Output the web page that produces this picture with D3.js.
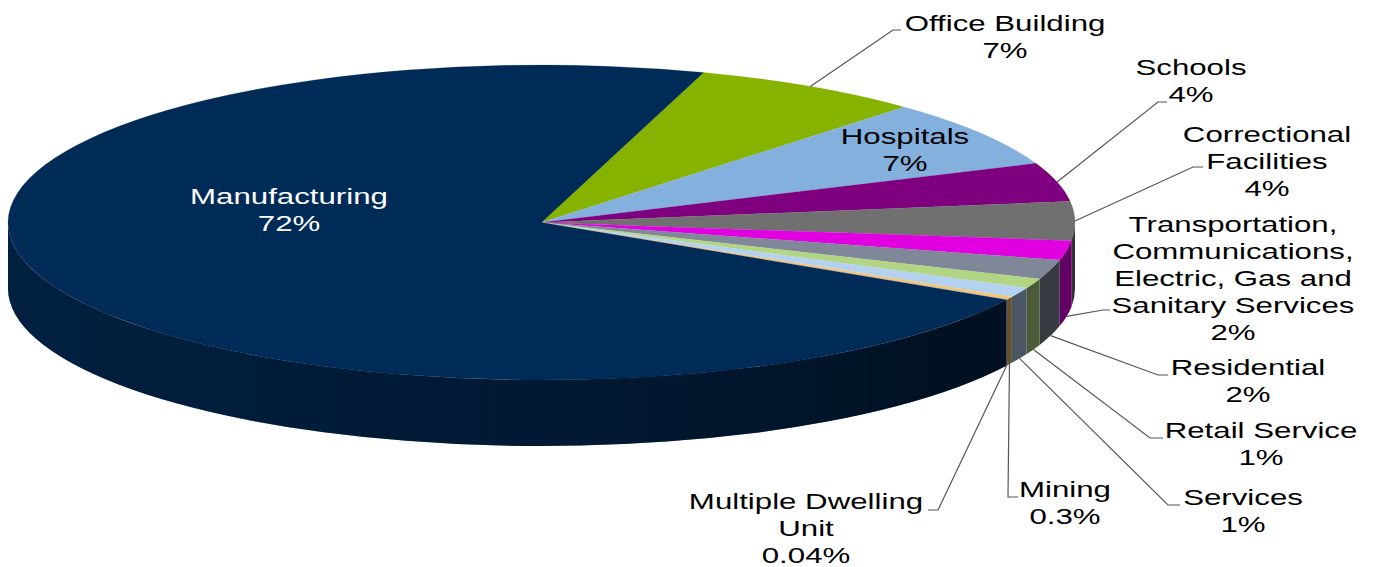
<!DOCTYPE html>
<html>
<head>
<meta charset="utf-8">
<script src="https://cdn.jsdelivr.net/npm/d3@7"></script>
<style>
html,body{margin:0;padding:0;background:#fff;}
svg{display:block;}
text{font-family:"Liberation Sans",Arial,sans-serif;font-size:22px;}
</style>
</head>
<body>
<svg id="chart" width="1376" height="567"></svg>
<script>
// ---- data ----
const categories = ["Office Building","Hospitals","Schools","Correctional Facilities",
  "Transportation, Communications, Electric, Gas and Sanitary Services",
  "Residential","Retail Service","Services","Mining","Multiple Dwelling Unit","Manufacturing"];
const values = [7, 7, 4, 4, 2, 2, 1, 1, 0.3, 0.04, 72];
const percentLabels = ["7%","7%","4%","4%","2%","2%","1%","1%","0.3%","0.04%","72%"];
const nameLines = [["Office Building"],["Hospitals"],["Schools"],["Correctional","Facilities"],
  ["Transportation,","Communications,","Electric, Gas and","Sanitary Services"],
  ["Residential"],["Retail Service"],["Services"],["Mining"],["Multiple Dwelling","Unit"],["Manufacturing"]];
const colors = ["#86B200","#84B0DE","#7E007E","#707070","#E000E0","#7F8799","#B2D584","#B4D2F0","#F0C878","#C9A0DC","#012B57"];

// ---- layout ----
const cx = 541.5, cy = 222.5, rx = 533.5, ry = 157.5, depth = 66;
const startDeg = 17.7;
const lineH = 27, stretch = 1.42;
// label anchor: [centerX, firstBaseline], leader: [elbowX, elbowY, endX] or null
const labelLayout = [
  {x:1005, y:31,  leader:[893,30,901], inside:false},
  {x:905,  y:144, leader:null, inside:true},
  {x:1191, y:75,  leader:[1158,102,1167]},
  {x:1267, y:142, leader:[1193,167,1203]},
  {x:1233, y:232, leader:[1103,310,1110]},
  {x:1248, y:375, leader:[1158,375,1168]},
  {x:1261, y:438, leader:[1150,438,1163]},
  {x:1243, y:505, leader:[1168,505,1180]},
  {x:1065, y:497, leader:[1008,497,1018]},
  {x:806,  y:509, leader:[938,510,928]},
  {x:289,  y:204, leader:null, inside:true, white:true}
];

const data = categories.map((c,i)=>({name:c, value:values[i], pct:percentLabels[i], lines:nameLines[i], color:colors[i], layout:labelLayout[i]}));

const svg = d3.select("#chart");
const defs = svg.append("defs");
const grad = defs.append("linearGradient").attr("id","sideShade")
  .attr("gradientUnits","userSpaceOnUse").attr("x1",cx-rx).attr("y1",0).attr("x2",cx+rx).attr("y2",0);
[[0,0.27],[0.3,0.36],[0.5,0.41],[0.75,0.52],[0.9,0.62],[1,0.55]].forEach(([o,a])=>
  grad.append("stop").attr("offset",o).attr("stop-color","#000").attr("stop-opacity",a));

const pie = d3.pie().sort(null).value(d=>d.value)
  .startAngle(startDeg*Math.PI/180).endAngle(startDeg*Math.PI/180+2*Math.PI);
const arcs = pie(data);

const pt = (a, dy=0) => [cx + rx*Math.sin(a), cy - ry*Math.cos(a) + dy];

// sides (front half only: angles between 90° and 270°)
const gSide = svg.append("g");
arcs.forEach(d=>{
  const lo = Math.PI/2, hi = 3*Math.PI/2;
  [0, 2*Math.PI].forEach(off=>{
    const a0 = Math.max(d.startAngle - off, lo), a1 = Math.min(d.endAngle - off, hi);
    if (a1 <= a0) return;
    const p0 = pt(a0), p1 = pt(a1), q1 = pt(a1, depth), q0 = pt(a0, depth);
    const large = (a1-a0) > Math.PI ? 1 : 0;
    const path = `M${p0}A${rx},${ry} 0 ${large} 1 ${p1}L${q1}A${rx},${ry} 0 ${large} 0 ${q0}Z`;
    gSide.append("path").attr("d",path).attr("fill",d.data.color);
    gSide.append("path").attr("d",path).attr("fill","url(#sideShade)");
  });
});

// top faces via d3.arc in a vertically squashed group
const arcGen = d3.arc().innerRadius(0).outerRadius(rx);
svg.append("g").attr("transform",`translate(${cx},${cy}) scale(1,${ry/rx})`)
  .selectAll("path").data(arcs).join("path")
  .attr("d",arcGen).attr("fill",d=>d.data.color)
  .attr("stroke",d=>d.data.color).attr("stroke-width",0.3);

// leader lines
const gLead = svg.append("g").attr("fill","none").attr("stroke","#555").attr("stroke-width",1.2);
arcs.forEach(d=>{
  const L = d.data.layout;
  if (!L.leader) return;
  const mid = (d.startAngle + d.endAngle)/2;
  let m = mid % (2*Math.PI);
  const front = m > Math.PI/2 && m < 3*Math.PI/2;
  const s = pt(mid, front ? depth : 0);
  gLead.append("path").attr("d",`M${s}L${L.leader[0]},${L.leader[1]}L${L.leader[2]},${L.leader[1]}`);
});

// labels
const gLab = svg.append("g");
arcs.forEach(d=>{
  const L = d.data.layout;
  const lines = d.data.lines.concat([d.data.pct]);
  lines.forEach((t,i)=>{
    gLab.append("text")
      .attr("transform",`translate(${L.x},${L.y + i*lineH}) scale(${stretch},1)`)
      .attr("text-anchor","middle")
      .attr("fill", L.white ? "#ffffff" : "#000000")
      .text(t);
  });
});
</script>
</body>
</html>
